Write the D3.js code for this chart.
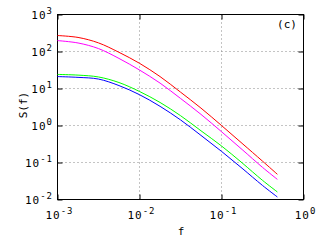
<!DOCTYPE html>
<html>
<head>
<meta charset="utf-8">
<script src="https://cdn.jsdelivr.net/npm/d3@7"></script>
<style>
  body { margin: 0; background: #fff; }
  text { font-family: "DejaVu Sans Mono", monospace; fill: #000; }
</style>
</head>
<body>
<div id="chart"></div>
<script>
const freq = [0.001, 0.00178, 0.00316, 0.00562, 0.01, 0.0178, 0.0316, 0.0562, 0.1, 0.178, 0.316, 0.48];
// spectra S(f), one array per curve
const redS     = [270, 240, 171, 95, 48, 21, 8, 2.95, 1.0, 0.33, 0.109, 0.048];
const magentaS = [197, 170, 120, 65, 31.6, 14, 5.4, 2.0, 0.68, 0.225, 0.074, 0.035];
const greenS   = [24, 23, 20.5, 14.5, 8.3, 4.2, 1.85, 0.72, 0.28, 0.098, 0.033, 0.016];
const blueS    = [21, 20, 18, 12, 6.8, 3.3, 1.42, 0.54, 0.20, 0.07, 0.024, 0.0117];

// tick exponents (labels are 10^n)
const xExp = [-3, -2, -1, 0];
const yExp = [-2, -1, 0, 1, 2, 3];

const W = 320, H = 240;
const pLeft = 57.5, pRight = 303.5, pTop = 14.5, pBottom = 199.5;

const svg = d3.select("#chart").append("svg")
    .attr("width", W)
    .attr("height", H);

const x = d3.scaleLog().domain([1e-3, 1]).range([pLeft, pRight]);
const y = d3.scaleLog().domain([1e-2, 1e3]).range([pBottom, pTop]);

// grid
const grid = svg.append("g").attr("stroke", "#888").attr("stroke-width", 1).attr("stroke-dasharray", "1,3");
grid.selectAll(".gx").data(xExp.slice(1, -1)).enter().append("line")
    .attr("x1", d => x(Math.pow(10, d))).attr("x2", d => x(Math.pow(10, d)))
    .attr("y1", pTop).attr("y2", pBottom);
grid.selectAll(".gy").data(yExp.slice(1, -1)).enter().append("line")
    .attr("y1", d => y(Math.pow(10, d))).attr("y2", d => y(Math.pow(10, d)))
    .attr("x1", pLeft).attr("x2", pRight);

// ticks on all four sides, pointing inward
const tickLen = 5;
const xTickVals = xExp.map(d => Math.pow(10, d));
const yTickVals = yExp.map(d => Math.pow(10, d));
svg.append("g").attr("transform", `translate(0,${pBottom})`)
    .call(d3.axisBottom(x).tickValues(xTickVals).tickSize(-tickLen).tickFormat(""));
svg.append("g").attr("transform", `translate(0,${pTop})`)
    .call(d3.axisTop(x).tickValues(xTickVals).tickSize(-tickLen).tickFormat(""));
svg.append("g").attr("transform", `translate(${pLeft},0)`)
    .call(d3.axisLeft(y).tickValues(yTickVals).tickSize(-tickLen).tickFormat(""));
svg.append("g").attr("transform", `translate(${pRight},0)`)
    .call(d3.axisRight(y).tickValues(yTickVals).tickSize(-tickLen).tickFormat(""));
svg.selectAll(".domain").remove();

// frame
svg.append("rect")
    .attr("x", pLeft).attr("y", pTop)
    .attr("width", pRight - pLeft).attr("height", pBottom - pTop)
    .attr("fill", "none").attr("stroke", "#000");

// curves
const series = [
    { vals: redS, color: "#ff0000" },
    { vals: magentaS, color: "#ff00ff" },
    { vals: greenS, color: "#00ff00" },
    { vals: blueS, color: "#0000ff" }
];
const line = d3.line()
    .x((d, i) => x(freq[i]))
    .y(d => y(d))
    .curve(d3.curveCatmullRom.alpha(0.5));
svg.selectAll(".curve").data(series).enter().append("path")
    .attr("fill", "none")
    .attr("stroke", d => d.color)
    .attr("stroke-width", 1)
    .attr("d", d => line(d.vals));

// tick labels 10^n
function powLabel(sel) {
    sel.append("tspan").attr("font-size", 11).text("10");
    sel.append("tspan").attr("font-size", 9).attr("dy", -5).text(d => d < 0 ? "-" + (-d) : d);
}
svg.selectAll(".xl").data(xExp).enter().append("text")
    .attr("x", d => x(Math.pow(10, d)) + 2)
    .attr("y", 219)
    .attr("text-anchor", "middle")
    .style("letter-spacing", "1px")
    .call(powLabel);
svg.selectAll(".yl").data(yExp).enter().append("text")
    .attr("x", 53)
    .attr("y", d => y(Math.pow(10, d)) + 4)
    .attr("text-anchor", "end")
    .style("letter-spacing", "1px")
    .call(powLabel);

// axis titles and panel tag
svg.append("text")
    .attr("transform", "translate(27,105) rotate(-90)")
    .attr("text-anchor", "middle")
    .attr("font-size", 11)
    .text("S(f)");
svg.append("text")
    .attr("x", 181).attr("y", 235)
    .attr("text-anchor", "middle")
    .attr("font-size", 11)
    .text("f");
svg.append("text")
    .attr("x", 287).attr("y", 28)
    .attr("text-anchor", "middle")
    .attr("font-size", 11)
    .text("(c)");
</script>
</body>
</html>
